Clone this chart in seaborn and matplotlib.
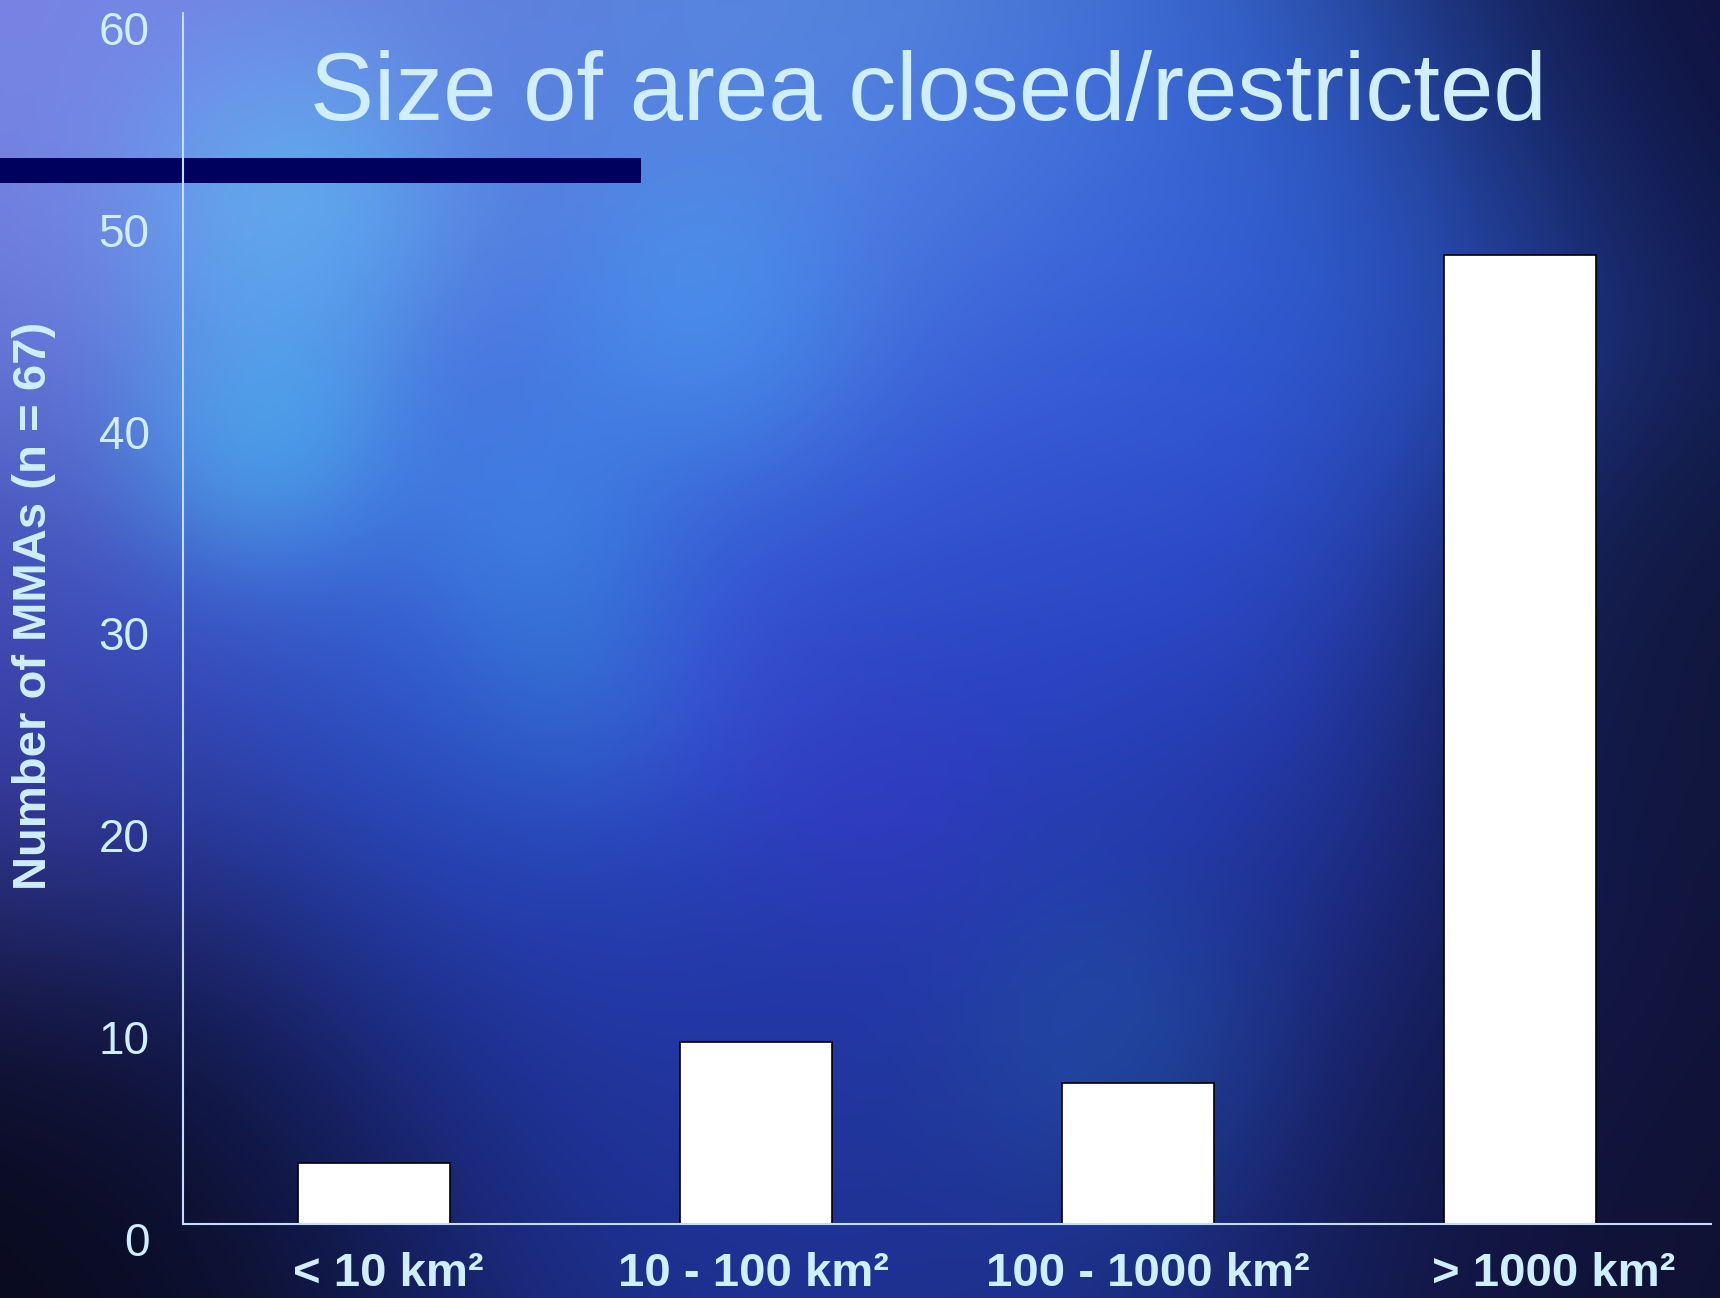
import numpy as np
import pandas as pd
import matplotlib
matplotlib.use("Agg")
import matplotlib.pyplot as plt
import matplotlib.transforms as mtransforms
from matplotlib.patches import Rectangle
import seaborn as sns

# Data
size_classes = ["< 10 km²", "10 - 100 km²", "100 - 1000 km²", "> 1000 km²"]
mma_counts = [3, 9, 7, 48]
y_ticks = [0, 10, 20, 30, 40, 50, 60]

TITLE = "Size of area closed/restricted"
Y_LABEL = "Number of MMAs (n = 67)"
TEXT_COLOR = "#cfeeff"
SPINE_COLOR = "#c4dcff"

sns.set_theme(style="white")
plt.rcParams["font.family"] = ["Liberation Sans", "DejaVu Sans"]

W, H, DPI = 1720, 1298, 100
fig = plt.figure(figsize=(W / DPI, H / DPI), dpi=DPI)

# ---- decorative nebula-style backdrop ----
bg_ax = fig.add_axes([0, 0, 1, 1], zorder=-10)
bg_ax.set_axis_off()
gh, gw = 260, 344
yy, xx = np.mgrid[0:gh, 0:gw]
xn = xx / (gw - 1)
yn = yy / (gh - 1)
aspect = W / H

blobs = [
    # (cx, cy, sigma, rgb, amplitude)
    (0.05, 0.04, 0.16, (0.55, 0.60, 1.00), 3.0),
    (0.17, 0.16, 0.06, (0.35, 0.88, 1.00), 2.5),
    (0.16, 0.33, 0.05, (0.30, 0.85, 1.00), 2.2),
    (0.41, 0.25, 0.06, (0.30, 0.75, 1.00), 2.0),
    (0.31, 0.40, 0.05, (0.30, 0.70, 0.98), 1.6),
    (0.35, 0.51, 0.05, (0.20, 0.65, 0.85), 1.4),
    (0.64, 0.80, 0.06, (0.15, 0.45, 0.70), 1.2),
    (0.45, 0.08, 0.16, (0.45, 0.70, 1.00), 2.2),
    (0.30, 0.45, 0.12, (0.25, 0.55, 0.98), 1.2),
    (0.45, 0.50, 0.25, (0.18, 0.28, 0.92), 2.0),
    (0.75, 0.15, 0.14, (0.20, 0.45, 0.95), 1.5),
    (0.62, 0.40, 0.12, (0.20, 0.32, 0.88), 1.2),
    (0.50, 0.85, 0.20, (0.12, 0.20, 0.55), 2.0),
    (0.41, 0.53, 0.05, (0.30, 0.22, 0.90), 1.2),
    (0.51, 0.62, 0.05, (0.28, 0.20, 0.85), 1.2),
    (0.00, 0.60, 0.10, (0.35, 0.35, 0.90), 1.0),
    (0.99, 0.50, 0.10, (0.06, 0.08, 0.20), 3.0),
    (0.00, 1.00, 0.15, (0.03, 0.03, 0.08), 4.0),
    (1.00, 0.00, 0.12, (0.05, 0.05, 0.20), 3.0),
    (0.97, 0.95, 0.15, (0.06, 0.06, 0.18), 3.0),
]
base = np.array([0.05, 0.07, 0.22])
w0 = 0.5
acc = w0 * base[None, None, :] * np.ones((gh, gw, 1))
wsum = w0 * np.ones((gh, gw))
for cx, cy, s, rgb, a in blobs:
    d2 = ((xn - cx) * aspect) ** 2 + (yn - cy) ** 2
    w = a * np.exp(-d2 / (2 * (s * aspect) ** 2))
    acc += w[..., None] * np.array(rgb)[None, None, :]
    wsum += w
img = np.clip(acc / wsum[..., None], 0, 1)
bg_ax.imshow(img, extent=[0, 1, 0, 1], aspect="auto", interpolation="bicubic",
             transform=bg_ax.transAxes)
bg_ax.set_xlim(0, 1)
bg_ax.set_ylim(0, 1)
# navy rule under the title
bg_ax.add_patch(Rectangle((0, 1 - 183 / H), 641 / W, 25 / H,
                          facecolor="#00005e", edgecolor="none",
                          transform=bg_ax.transAxes))

# ---- bar chart ----
ax_w = (1711 - 183) / W
ax_h = (1224 - 13) / H
ax = fig.add_axes([183 / W, 74 / H, ax_w, ax_h])
ax.set_facecolor("none")
df = pd.DataFrame({"size": size_classes, "count": mma_counts})
sns.barplot(data=df, x="size", y="count", color="white", saturation=1,
            edgecolor="black", linewidth=1.2, width=0.4, ax=ax)
ax.set_xlim(-0.5, 3.5)
ax.set_ylim(0, 60)
ax.set_yticks(y_ticks)
ax.set_yticklabels([str(t) for t in y_ticks])
ax.set_xlabel("")
ax.set_ylabel(Y_LABEL, fontsize=34, fontweight="bold", color=TEXT_COLOR)
ax.yaxis.label.set_horizontalalignment("center")
ax.yaxis.label.set_verticalalignment("center")
ax.yaxis.set_label_coords(-(183 - 34) / (ax_w * W), (1298 - 606 - 74) / (ax_h * H))

for side in ["top", "right"]:
    ax.spines[side].set_visible(False)
for side in ["left", "bottom"]:
    ax.spines[side].set_color(SPINE_COLOR)
    ax.spines[side].set_linewidth(1.5)

ax.tick_params(axis="y", length=0, pad=24, labelsize=33, labelcolor=TEXT_COLOR)
ax.tick_params(axis="x", length=0, pad=20, labelsize=34, labelcolor=TEXT_COLOR)

# nudge numeric labels slightly below their gridline positions
shift = mtransforms.ScaledTranslation(0, -15 / DPI, fig.dpi_scale_trans)
for tick in ax.yaxis.get_major_ticks():
    tick.label1.set_transform(tick.label1.get_transform() + shift)

# category labels sit slightly off their bar centres
x_nudges = [14, -3, 10, 34]
for tick, dx in zip(ax.xaxis.get_major_ticks(), x_nudges):
    tick.label1.set_fontweight("bold")
    off = mtransforms.ScaledTranslation(dx / DPI, 0, fig.dpi_scale_trans)
    tick.label1.set_transform(tick.label1.get_transform() + off)

fig.text(928 / W, 1 - 95 / H, TITLE, fontsize=69, color=TEXT_COLOR,
         ha="center", va="center")

fig.savefig("out.png", dpi=DPI)
